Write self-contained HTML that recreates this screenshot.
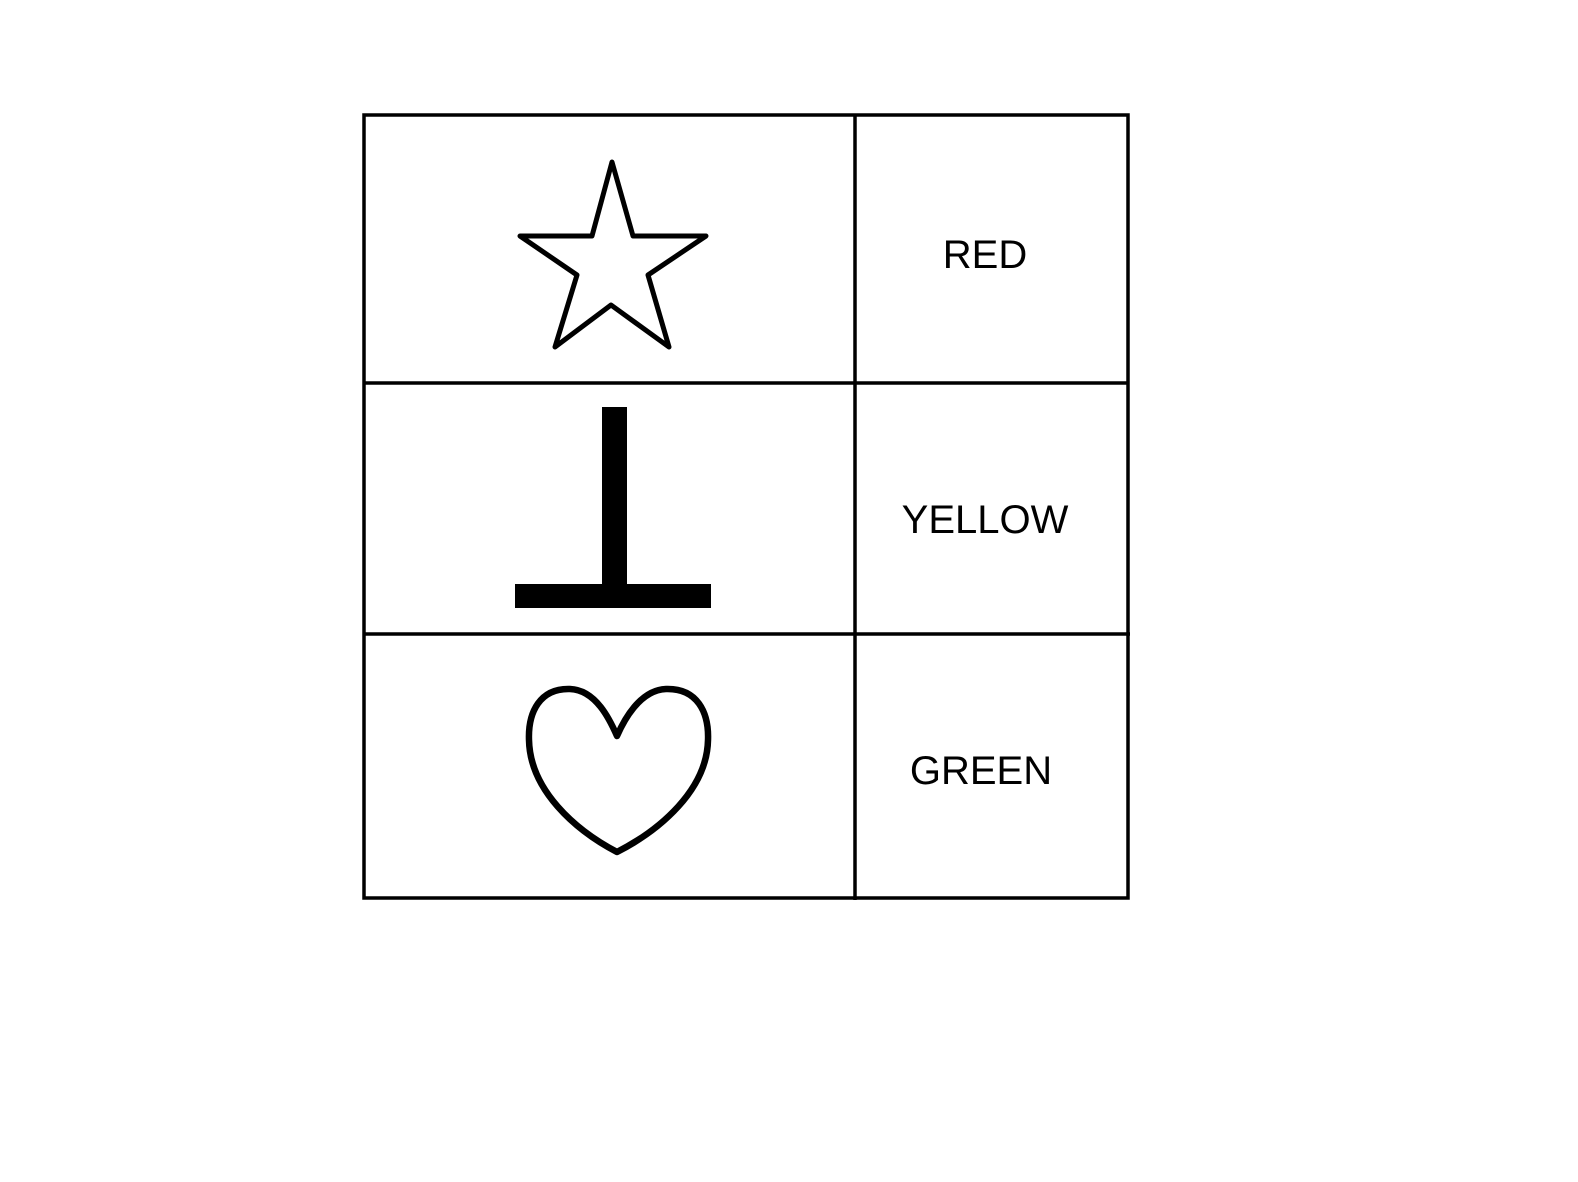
<!DOCTYPE html>
<html>
<head>
<meta charset="utf-8">
<style>
  html,body{margin:0;padding:0;background:#fff;}
  body{width:1578px;height:1182px;overflow:hidden;}
  svg{display:block;}
  text{font-family:"Liberation Sans", sans-serif;font-size:40px;fill:#000;}
</style>
</head>
<body>
<svg width="1578" height="1182" viewBox="0 0 1578 1182">
  <rect x="0" y="0" width="1578" height="1182" fill="#fff"/>
  <g stroke="#000" stroke-width="3.5" fill="none">
    <rect x="364" y="115" width="764" height="783"/>
    <line x1="855" y1="115" x2="855" y2="900"/>
    <line x1="364" y1="383" x2="1128" y2="383"/>
    <line x1="364" y1="634" x2="1130" y2="634"/>
  </g>
  <polygon
    points="612,162 633,236 706,236 648,275 669,347 611,305 555,347 577,275 520,236 592,236"
    fill="none" stroke="#000" stroke-width="5" stroke-linejoin="round"/>
  <g fill="#000">
    <rect x="602" y="407" width="25" height="180"/>
    <rect x="515" y="584" width="196" height="24"/>
  </g>
  <path
    d="M617,736 C610,720 596,690 570,689 C540,688 528,712 529,740 C530,790 575,830 617,852 C660,830 707,790 708,740 C709,712 697,688 666,689 C640,690 624,720 617,736 Z"
    fill="none" stroke="#000" stroke-width="6.5" stroke-linejoin="round"/>
  <text x="985" y="268" text-anchor="middle">RED</text>
  <text x="985" y="533" text-anchor="middle">YELLOW</text>
  <text x="981" y="784" text-anchor="middle">GREEN</text>
</svg>
</body>
</html>
